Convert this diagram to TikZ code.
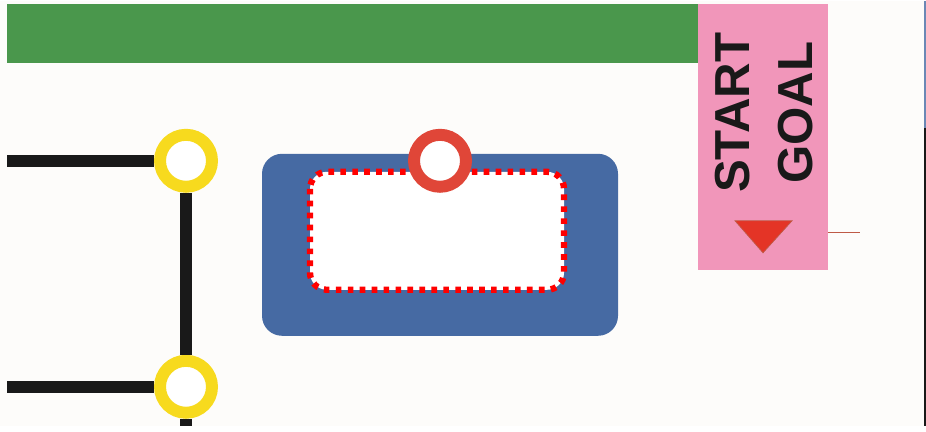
\documentclass[tikz,border=0pt]{standalone}
\usepackage{fontspec}
\setmainfont{Liberation Sans}
\definecolor{barGreen}{RGB}{74,151,76}
\definecolor{panelPink}{RGB}{241,150,186}
\definecolor{plateBlue}{RGB}{70,106,163}
\definecolor{ringYellow}{RGB}{247,218,30}
\definecolor{ringRed}{RGB}{224,70,56}
\definecolor{markRed}{RGB}{228,52,38}
\definecolor{tickRed}{RGB}{190,90,70}
\definecolor{trackBlack}{RGB}{25,25,25}
\definecolor{paper}{RGB}{253,252,250}

\begin{document}
\begin{tikzpicture}[x=0.02cm,y=-0.02cm,
  ring/.style={circle,fill=white,line width=6.8pt,minimum size=1.04cm,inner sep=0pt},
  track/.style={line width=6.8pt,draw=trackBlack}]
\fill[paper] (0,0) rectangle (926,425);
\fill[barGreen] (7,3) rectangle (698,62);
\fill[panelPink] (698,3) rectangle (828,269);
\node[rotate=90,align=center,inner sep=0pt,text=trackBlack,
  font=\bfseries\fontsize{28}{36.3}\selectfont] (label) at (764,112) {START\\GOAL};
\filldraw[fill=markRed,draw=tickRed,line width=0.4pt] (735,220) -- (792,220) -- (763,252) -- cycle;
\coordinate (tick) at (828,232);
\draw[tickRed,line width=0.7pt] (tick) -- ++(32,0);
\draw[plateBlue!80,line width=0.9pt] (925,0) -- (925,127);
\draw[trackBlack,line width=0.9pt] (925,127) -- (925,425);

\fill[plateBlue,rounded corners=0.4cm] (262,153) rectangle (618,335);
\draw[red,fill=white,line width=3.6pt,dash pattern=on 3.2pt off 3.6pt,rounded corners=0.34cm]
  (310,171) rectangle (564,289);
\node[ring,draw=ringRed] (stop) at (440,160) {};

\coordinate (lt) at (7,160);
\coordinate (lb) at (7,386);
\node[ring,draw=ringYellow] (ytop) at (186,160) {};
\node[ring,draw=ringYellow] (ybot) at (186,386) {};
\draw[track] (lt) -- (ytop.west);
\draw[track] (lb) -- (ybot.west);
\draw[track] (ytop.south) -- (ybot.north);
\draw[track] (ybot.south) -- (ybot |- 0,425);
\end{tikzpicture}
\end{document}
